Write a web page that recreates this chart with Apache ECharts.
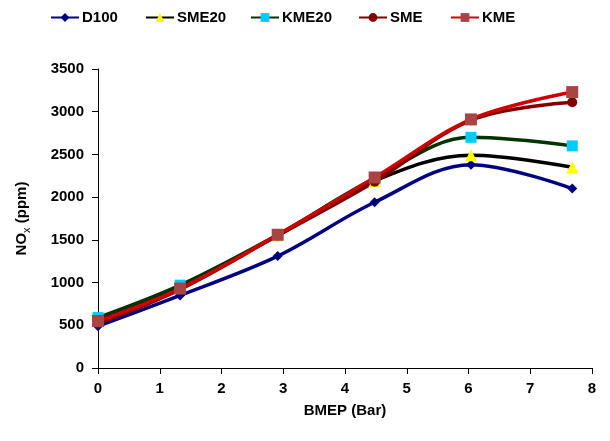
<!DOCTYPE html>
<html>
<head>
<meta charset="utf-8">
<style>
  html, body { margin: 0; padding: 0; background: #fff; }
  #main { width: 610px; height: 441px; }
</style>
<script src="https://cdn.jsdelivr.net/npm/echarts@6/dist/echarts.min.js"></script>
</head>
<body>
<div id="main"></div>
<script>
// BMEP (Bar)
var bmep = [0, 1.33, 2.91, 4.48, 6.04, 7.68];
// NOx (ppm)
var d100  = [490, 850, 1310, 1940, 2380, 2100];
var sme20 = [560, 950, 1550, 2190, 2490, 2350];
var kme20 = [590, 970, 1560, 2220, 2700, 2600];
var sme   = [520, 920, 1550, 2180, 2900, 3110];
var kme   = [550, 930, 1560, 2230, 2910, 3230];

var names = ['D100', 'SME20', 'KME20', 'SME', 'KME'];
var legendLeft = [45, 140, 245, 353, 445];

var font = 'Liberation Sans, Arial, sans-serif';

function pts(ys) {
  return bmep.map(function (x, i) { return [x, ys[i]]; });
}

function mk(name, ys, lineColor, symbol, symColor, size) {
  return {
    name: name,
    type: 'line',
    smooth: 0.35,
    data: pts(ys),
    symbol: symbol,
    symbolSize: size,
    lineStyle: { color: lineColor, width: 3.5 },
    itemStyle: { color: symColor, borderWidth: 0 },
    emphasis: { disabled: true }
  };
}

// one legend per item so each sits where it does in the original
var legends = names.map(function (n, i) {
  return {
    top: 5,
    left: legendLeft[i],
    itemWidth: 28,
    itemHeight: 11,
    textStyle: { fontFamily: font, fontSize: 15, fontWeight: 'bold', color: '#000', padding: [0, 0, 0, -2] },
    data: [n]
  };
});

var myChart = echarts.init(document.getElementById('main'));
myChart.setOption({
  animation: false,
  backgroundColor: '#fff',
  textStyle: { fontFamily: font },
  legend: legends,
  grid: { left: 98, right: 18, top: 69, bottom: 73, containLabel: false },
  xAxis: {
    type: 'value',
    min: 0, max: 8, interval: 1,
    name: 'BMEP (Bar)',
    nameLocation: 'middle',
    nameGap: 35,
    nameTextStyle: { fontFamily: font, fontSize: 15, fontWeight: 'bold', color: '#000' },
    axisLine: { lineStyle: { color: '#000', width: 1 } },
    axisTick: { show: true, length: 6, lineStyle: { color: '#000' } },
    axisLabel: { fontFamily: font, fontSize: 15, fontWeight: 'bold', color: '#000', margin: 13 },
    splitLine: { show: false }
  },
  yAxis: {
    type: 'value',
    min: 0, max: 3500, interval: 500,
    name: '{a|NO}{b|x}{a| (ppm)}',
    nameLocation: 'middle',
    nameGap: 66,
    nameTextStyle: {
      rich: {
        a: { fontFamily: font, fontSize: 15, fontWeight: 'bold', color: '#000', lineHeight: 20 },
        b: { fontFamily: font, fontSize: 11, color: '#000', lineHeight: 20, verticalAlign: 'bottom', padding: [7, 0, 0, 0] }
      }
    },
    axisLine: { show: true, lineStyle: { color: '#000', width: 1 } },
    axisTick: { show: true, length: 6, lineStyle: { color: '#000' } },
    axisLabel: {
      fontFamily: font, fontSize: 15, fontWeight: 'bold', color: '#000', margin: 14,
      formatter: function (v) { return String(v); }
    },
    splitLine: { show: false }
  },
  series: [
    mk('D100', d100, '#000080', 'diamond', '#000080', 10),
    mk('SME20', sme20, '#000000', 'triangle', '#ffff00', 12),
    mk('KME20', kme20, '#003300', 'rect', '#00ccff', 11),
    mk('SME', sme, '#800000', 'circle', '#800000', 10),
    mk('KME', kme, '#cc0000', 'rect', '#a94444', 12)
  ]
});
</script>
</body>
</html>
